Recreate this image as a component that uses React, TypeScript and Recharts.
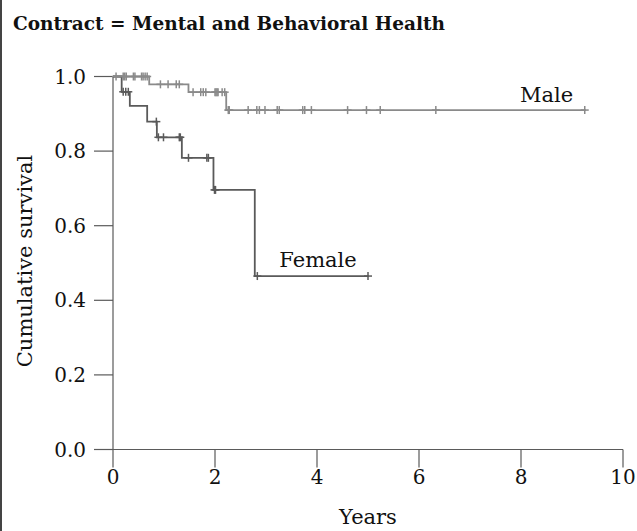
import React from 'react';
import { ComposedChart, Line, Scatter, XAxis, YAxis, ReferenceDot, Label } from 'recharts';

// Kaplan-Meier step points (time in years, cumulative survival)
const maleEventTimes = [0, 0.71, 1.48, 2.22, 9.27];
const maleSurvival = [1, 0.979, 0.958, 0.91, 0.91];
const femaleEventTimes = [0, 0.17, 0.33, 0.67, 0.86, 1.35, 1.97, 2.78, 5.01];
const femaleSurvival = [1, 0.959, 0.921, 0.879, 0.837, 0.782, 0.696, 0.465, 0.465];

// Censored observation times
const maleCensorTimes = [
  0.06, 0.2, 0.23, 0.26, 0.4, 0.43, 0.56, 0.59, 0.63, 0.67,
  0.93, 1.08, 1.24, 1.3,
  1.57, 1.72, 1.77, 1.82, 2.0, 2.02, 2.04, 2.06, 2.14, 2.19,
  2.26, 2.28, 2.65, 2.82, 2.87, 2.98, 3.22, 3.26, 3.72, 3.76, 3.89, 4.6, 4.97, 5.24, 6.33, 9.25,
];
const femaleCensorTimes = [
  0.2, 0.25, 0.3,
  0.85,
  0.89, 0.99, 1.3, 1.32,
  1.48, 1.84, 1.87,
  1.99, 2.01,
  2.83, 5.0,
];

const xTicks = [0, 2, 4, 6, 8, 10];
const yTicks = [0, 0.2, 0.4, 0.6, 0.8, 1.0];

const title = 'Contract = Mental and Behavioral Health';
const xTitle = 'Years';
const yTitle = 'Cumulative survival';
const maleName = 'Male';
const femaleName = 'Female';

const MALE_COLOR = '#8a8a8a';
const FEMALE_COLOR = '#5a5a5a';
const AXIS_COLOR = '#5a5a5a';
const FONT = '"DejaVu Serif", serif';

const toCurve = (times: number[], surv: number[]) => times.map((t, i) => ({ t, s: surv[i] }));
const stepValue = (times: number[], surv: number[], t: number) => {
  let v = surv[0];
  for (let i = 0; i < times.length; i++) if (times[i] <= t) v = surv[i];
  return v;
};
const toCensor = (ct: number[], times: number[], surv: number[]) =>
  ct.map((t) => ({ t, s: stepValue(times, surv, t) }));

const maleCurve = toCurve(maleEventTimes, maleSurvival);
const femaleCurve = toCurve(femaleEventTimes, femaleSurvival);
const maleCensor = toCensor(maleCensorTimes, maleEventTimes, maleSurvival);
const femaleCensor = toCensor(femaleCensorTimes, femaleEventTimes, femaleSurvival);

const makeCross = (color: string) => (props: any) => {
  const { cx, cy } = props;
  if (cx == null || cy == null) return <g />;
  return (
    <g>
      <line x1={cx} x2={cx} y1={cy - 4} y2={cy + 4} stroke={color} strokeWidth={1.5} />
      <line x1={cx - 4} x2={cx + 4} y1={cy} y2={cy} stroke={color} strokeWidth={1.5} />
    </g>
  );
};

const XTitle = (props: any) => {
  const vb = props.viewBox || {};
  return (
    <text x={vb.x + vb.width / 2} y={524} textAnchor="middle" fontFamily={FONT} fontSize={21} fill="#111">
      {xTitle}
    </text>
  );
};

const YTitle = (props: any) => {
  const vb = props.viewBox || {};
  const cx = 32;
  const cy = vb.y + vb.height / 2 - 2;
  return (
    <text
      x={cx}
      y={cy}
      transform={`rotate(-90 ${cx} ${cy})`}
      textAnchor="middle"
      fontFamily={FONT}
      fontSize={21}
      fill="#111"
    >
      {yTitle}
    </text>
  );
};

export default function App() {
  return (
    <div style={{ position: 'absolute', left: 0, top: 0, width: 637, height: 531, background: '#fff' }}>
      <div style={{ position: 'absolute', left: 0, top: 0, width: 2, height: 531, background: '#444' }} />
      <svg width={637} height={40} style={{ position: 'absolute', left: 0, top: 0 }}>
        <text x={13} y={30} fontFamily={FONT} fontWeight="bold" fontSize={18.5} fill="#111">
          {title}
        </text>
      </svg>
      <div style={{ position: 'absolute', left: 0, top: 0 }}>
        <ComposedChart width={637} height={531} margin={{ top: 76.5, right: 14, bottom: 0, left: 0 }}>
          <XAxis
            type="number"
            dataKey="t"
            domain={[0, 10]}
            ticks={xTicks}
            height={81.5}
            tickSize={18}
            tickMargin={2}
            stroke={AXIS_COLOR}
            strokeWidth={1.2}
            tick={{ fontFamily: FONT, fontSize: 20, fill: '#111' }}
            allowDecimals={false}
          >
            <Label content={<XTitle />} />
          </XAxis>
          <YAxis
            type="number"
            domain={[0, 1]}
            ticks={yTicks}
            width={113}
            tickSize={19}
            tickMargin={8}
            stroke={AXIS_COLOR}
            strokeWidth={1.2}
            tickFormatter={(v: number) => v.toFixed(1)}
            tick={{ fontFamily: FONT, fontSize: 20, fill: '#111' }}
          >
            <Label content={<YTitle />} />
          </YAxis>
          <Line
            data={maleCurve}
            dataKey="s"
            type="stepAfter"
            stroke={MALE_COLOR}
            strokeWidth={1.8}
            dot={false}
            activeDot={false}
            isAnimationActive={false}
          />
          <Line
            data={femaleCurve}
            dataKey="s"
            type="stepAfter"
            stroke={FEMALE_COLOR}
            strokeWidth={1.8}
            dot={false}
            activeDot={false}
            isAnimationActive={false}
          />
          <Scatter data={maleCensor} dataKey="s" shape={makeCross(MALE_COLOR)} isAnimationActive={false} />
          <Scatter data={femaleCensor} dataKey="s" shape={makeCross(FEMALE_COLOR)} isAnimationActive={false} />
          <ReferenceDot
            x={8.5}
            y={0.952}
            r={0}
            fill="none"
            stroke="none"
            label={{ value: maleName, position: 'center', fontFamily: FONT, fontSize: 21, fill: '#111' }}
          />
          <ReferenceDot
            x={4.02}
            y={0.509}
            r={0}
            fill="none"
            stroke="none"
            label={{ value: femaleName, position: 'center', fontFamily: FONT, fontSize: 21, fill: '#111' }}
          />
        </ComposedChart>
      </div>
    </div>
  );
}
